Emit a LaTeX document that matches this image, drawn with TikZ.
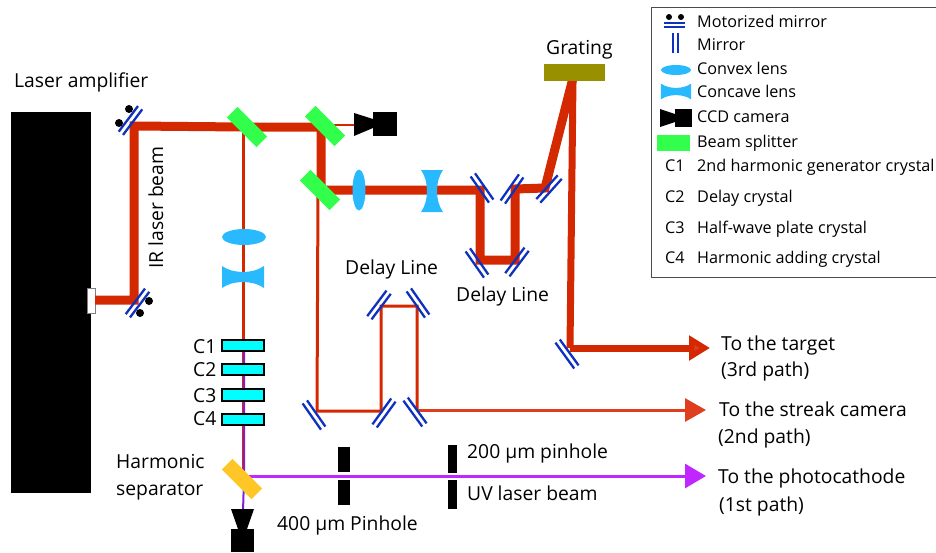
\documentclass[tikz,border=0pt]{standalone}
\usepackage{fontspec}
\setmainfont{Open Sans}
\usetikzlibrary{arrows.meta}
\definecolor{beamred}{RGB}{212,40,0}
\definecolor{arrowred}{RGB}{222,62,30}
\definecolor{uvviolet}{RGB}{192,38,255}
\definecolor{mixviolet}{RGB}{130,30,210}
\definecolor{mirrorblue}{RGB}{15,50,190}
\definecolor{lensblue}{RGB}{40,185,255}
\definecolor{splitgreen}{RGB}{50,255,75}
\definecolor{gratingcol}{RGB}{153,144,0}
\definecolor{sepyellow}{RGB}{255,198,40}
\definecolor{crystalcyan}{RGB}{0,255,255}
\tikzset{
	lbl/.style={anchor=base west,inner sep=0pt,font=\fontsize{19.3}{19.3}\selectfont},
	leg/.style={anchor=base west,inner sep=0pt,font=\fontsize{16.2}{16.2}\selectfont},
	thickbeam/.style={draw=beamred,line width=9pt},
	thinbeam/.style={draw=beamred,line width=3pt},
	mirrorpair/.pic={
		\draw[mirrorblue,line width=2.3pt] (-2.7,-16) -- (-2.7,16);
		\draw[mirrorblue,line width=2.3pt] (2.7,-16) -- (2.7,16);
	},
	splitter/.pic={
		\fill[splitgreen] (-21,-7.5) rectangle (21,7.5);
	},
	concave/.pic={
		\fill[lensblue] (-21,-11) .. controls (-10,-3) and (10,-3) .. (21,-11) -- (21,11) .. controls (10,3) and (-10,3) .. (-21,11) -- cycle;
	},
}
\begin{document}
\begin{tikzpicture}[x=1pt,y=-1pt]
	\useasboundingbox (0,0) rectangle (936,552);
	\clip (0,0) rectangle (936,552);
	% Punkte der Strahlen
	\coordinate (port) at (95,300);
	\coordinate (mm1) at (134,300);
	\coordinate (mm2) at (134,126);
	\coordinate (bs1) at (243,127);
	\coordinate (bs2) at (321,127);
	\coordinate (bs3) at (321,190);
	\coordinate (camin) at (356,125);
	\coordinate (d1) at (480,190);
	\coordinate (d2) at (480,260);
	\coordinate (d3) at (515,260);
	\coordinate (d4) at (515,189);
	\coordinate (gm) at (545,188);
	\coordinate (gr) at (573,78);
	\coordinate (tm) at (570,348);
	\coordinate (tend) at (710,348);
	\coordinate (e1) at (318,190);
	\coordinate (e2) at (317,411);
	\coordinate (e3) at (381,411);
	\coordinate (e4) at (381,306);
	\coordinate (e5) at (417,306);
	\coordinate (e6) at (417,410);
	\coordinate (send) at (706,410);
	\coordinate (c1) at (243,345);
	\coordinate (sep) at (243,477);
	\coordinate (cam2) at (243,512);
	\coordinate (pend) at (706,476);
	% Verstaerker
	\fill (11,112) rectangle (91,493);
	\draw[fill=white,draw=gray] (87,288) rectangle (95,313);
	% Strahlen
	\draw[thickbeam,line join=miter] (port) -- (mm1) -- (mm2) -- (bs1) -- (bs2) -- (bs3) -- (d1) -- (d2) -- (d3) -- (d4) -- (gm) -- (gr);
	\draw[thickbeam,line width=7pt,line join=miter] (gr) -- (tm);
	\draw[beamred,line width=7pt,-{Triangle[length=21pt,width=24pt,fill=arrowred]}] (tm) -- (tend);
	\draw[beamred,line width=1.6pt] (bs2 |- camin) -- (camin);
	\draw[thinbeam] (bs1) -- (sep);
	\draw[thinbeam] (e1) -- (e2) -- (e3) -- (e4) -- (e5) -- (e6);
	\draw[arrowred,line width=3pt,-{Triangle[length=21pt,width=23pt]}] (e6) -- (send);
	\draw[mixviolet,line width=2pt] ([xshift=1pt]c1) -- ([xshift=1pt]sep) -- ([xshift=0pt]cam2);
	\draw[uvviolet,line width=3pt,-{Triangle[length=21pt,width=24pt]}] (sep |- pend) -- (pend);
	% Spiegel
	\foreach \x/\y/\a in {482/188/35,512/189/-35,477/263/35,517/262/-37,549/189/-42,379/305/-37,418/303/35,314/415/35,384/413/-36,415/412/36,567/354/36}
		\pic[rotate=\a] at (\x,\y) {mirrorpair};
	\pic[rotate=-37] at (130.5,120.5) {mirrorpair};
	\pic[rotate=-37] at (137.5,303) {mirrorpair};
	\fill (129,109) circle (4);
	\fill (119,123) circle (4);
	\fill (149,301) circle (4);
	\fill (140,313) circle (4);
	% Strahlteiler
	\pic[rotate=-45] at (247,127) {splitter};
	\pic[rotate=-45] at (325,126) {splitter};
	\pic[rotate=-45] at (320,190) {splitter};
	\fill[sepyellow,rotate around={-45:(242,479)}] (221,471.5) rectangle (263,486.5);
	% Linsen
	\fill[lensblue] (244,237) ellipse (22 and 8);
	\pic at (243,277) {concave};
	\fill[lensblue] (359,190) ellipse (6.5 and 20.5);
	\pic[rotate=90] at (432,191) {concave};
	% Kameras
	\fill (354,113) -- (373,119) -- (373,128) -- (354,136) -- cycle;
	\fill (373,112) rectangle (397,136);
	\fill (231,509) -- (254,509) -- (247,529) -- (238,529) -- cycle;
	\fill (231,529) rectangle (254,552);
	% Gitter
	\fill[gratingcol] (544,64) rectangle (605,81);
	% Kristalle
	\foreach \y/\h in {340/351,364/375,389/401,414/425}
		\draw[fill=crystalcyan,line width=2pt] (222,\y) rectangle (264,\h);
	% Blenden
	\fill (338,447) rectangle (350,472);
	\fill (338,480) rectangle (350,505);
	\fill (448,445) rectangle (457,473);
	\fill (448,480) rectangle (457,509);
	% Beschriftung
	\node[lbl] (amp) at (14,87) {Laser amplifier};
	\node[lbl,rotate=90] (irl) at (163,269) {IR laser beam};
	\node[lbl] (grat) at (546,54) {Grating};
	\node[lbl] (dl2) at (345,274) {Delay Line};
	\node[lbl] (dl1) at (456,301) {Delay Line};
	\node[lbl] (cl1) at (193,353) {C1};
	\node[lbl] (cl2) at (193,376) {C2};
	\node[lbl] (cl3) at (193,402) {C3};
	\node[lbl] (cl4) at (193,425) {C4};
	\node[lbl] (hs1) at (116,468) {Harmonic};
	\node[lbl] (hs2) at (116,495) {separator};
	\node[lbl] (ph4) at (277,530) {400 µm Pinhole};
	\node[lbl] (ph2) at (467,458) {200 µm pinhole};
	\node[lbl] (uvl) at (467,500) {UV laser beam};
	\node[lbl] (to3) at (721,350) {To the target};
	\node[lbl] (pa3) at (721,376) {(3rd path)};
	\node[lbl] (to2) at (719,416) {To the streak camera};
	\node[lbl] (pa2) at (718,443) {(2nd path)};
	\node[lbl] (to1) at (718,483) {To the photocathode};
	\node[lbl] (pa1) at (719,511) {(1st path)};
	% Legende
	\draw[black!70,line width=1pt] (936,7) -- (651,7) -- (651,277) -- (936,277);
	\fill (669,17) circle (3);
	\fill (681,17) circle (3);
	\draw[mirrorblue,line width=2pt] (664,22.5) -- (685,22.5);
	\draw[mirrorblue,line width=2pt] (664,27) -- (685,27);
	\draw[mirrorblue,line width=2.2pt] (673,33) -- (673,53);
	\draw[mirrorblue,line width=2.2pt] (678,33) -- (678,53);
	\fill[lensblue] (676,70) ellipse (15 and 5);
	\pic[scale=.72] at (676,91.5) {concave};
	\fill (660,109) -- (675,114) -- (675,122) -- (660,127) -- cycle;
	\fill (675,109) rectangle (692,127);
	\fill[splitgreen] (657,135) rectangle (690,151);
	\foreach \y/\t in {27/Motorized mirror,50/Mirror,74/Convex lens,97/Concave lens,122/CCD camera,147/Beam splitter,171/2nd harmonic generator crystal,202/Delay crystal,233/Half-wave plate crystal,263/Harmonic adding crystal}
		\node[leg] at (697,\y) {\t};
	\foreach \y/\t in {171/C1,202/C2,233/C3,263/C4}
		\node[leg] at (665,\y) {\t};
\end{tikzpicture}
\end{document}
